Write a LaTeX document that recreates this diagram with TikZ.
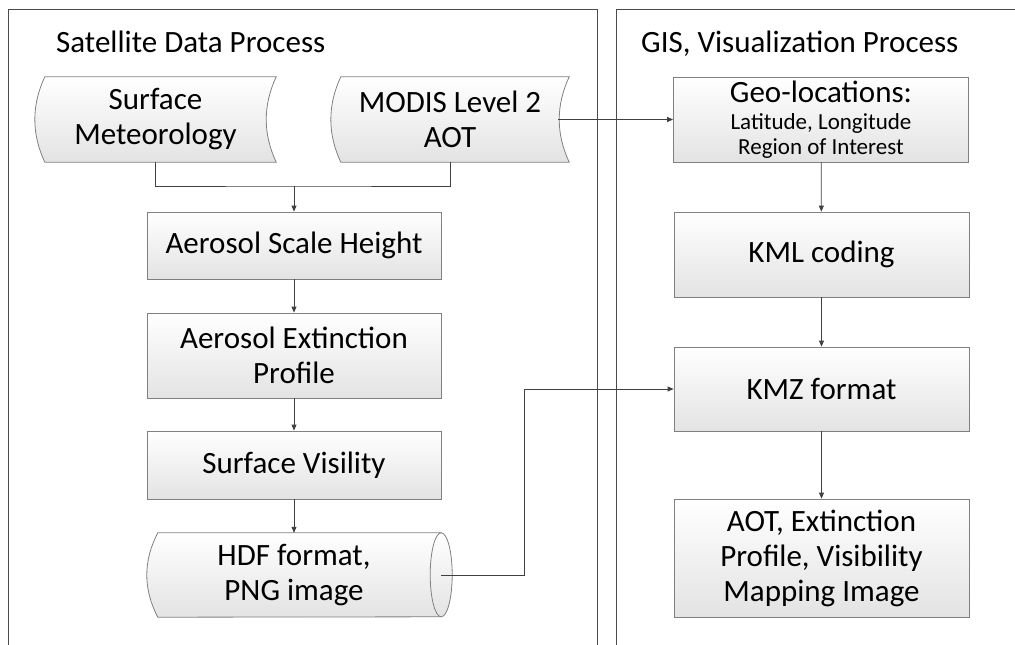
\documentclass[tikz,border=0pt]{standalone}
\usepackage{fontspec}
\setmainfont{Carlito}
\usetikzlibrary{arrows.meta,calc,backgrounds}
\tikzset{
  big/.style={font=\fontsize{31}{35}\selectfont},
  boxst/.style={draw=black!50, line width=0.8pt, top color=white, bottom color=black!11,
    minimum width=294pt, inner sep=0pt, align=center, big},
  ghost/.style={draw=none, minimum width=#1, inner sep=0pt, align=center, big},
  shapest/.style={draw=black!50, line width=0.8pt, top color=white, bottom color=black!11},
  panel/.style={draw=black!70, line width=0.8pt},
  conn/.style={draw=black!75, line width=0.8pt},
  arr/.style={conn, -{Triangle[length=6pt,width=5pt]}},
}
\newcommand\sdshape[1]{%
  \path[shapest] ([xshift=10pt]#1.north west) -- (#1.north east)
    .. controls ($(#1.north east)!1/3!(#1.south east)+(-13.3,0)$)
       and ($(#1.north east)!2/3!(#1.south east)+(-13.3,0)$) .. (#1.south east)
    -- ([xshift=10pt]#1.south west)
    .. controls ($(#1.south west)!1/3!(#1.north west)+(-3.3,0)$)
       and ($(#1.south west)!2/3!(#1.north west)+(-3.3,0)$) .. cycle;}
\begin{document}
\begin{tikzpicture}[x=1pt,y=-1pt]
\useasboundingbox (0,0) rectangle (1015,645);
\clip (0,0) rectangle (1015,645);
% panels
\draw[panel] (8,680) -- (8,9) -- (597,9) -- (597,680);
\draw[panel] (616,680) -- (616,9) -- (1040,9);
\node[anchor=base west, big, inner sep=0pt] (t1) at (56,52) {Satellite Data Process};
\node[anchor=base west, big, inner sep=0pt] (t2) at (641,52) {GIS, Visualization Process};
% left column
\node[ghost=241pt, minimum height=85pt] (sm) at (155.5,119.5) {Surface\\Meteorology};
\node[ghost=238pt, minimum height=85pt] (modis) at (450,119.5) {MODIS Level 2\\AOT};
\node[boxst, minimum height=67pt] (ash) at (294,245.5) {Aerosol Scale Height};
\node[boxst, minimum height=85pt] (aep) at (294,355.5) {Aerosol Extinction\\Profile};
\node[boxst, minimum height=68pt] (sv) at (294,465) {Surface Visility};
\node[ghost=294pt, minimum height=84pt] (hdf) at (294,575) {HDF format,\\PNG image};
% right column
\node[boxst, minimum width=295pt, minimum height=85pt,
      font=\fontsize{23}{25}\selectfont] (geo) at (821,119.5)
      {{\fontsize{31}{35}\selectfont Geo-locations:}\\[2pt]Latitude, Longitude\\Region of Interest};
\node[boxst, minimum width=295pt, minimum height=85pt] (kml) at (821.5,254.5) {KML coding};
\node[boxst, minimum width=295pt, minimum height=84pt] (kmz) at (821.5,389) {KMZ format};
\node[boxst, minimum width=295pt, minimum height=118pt] (aot) at (821.5,558) {AOT, Extinction\\Profile, Visibility\\Mapping Image};
% special shapes behind text
\begin{scope}[on background layer]
\sdshape{sm}
\sdshape{modis}
\path[shapest] ([xshift=11pt]hdf.north west) -- (hdf.north east)
  arc[start angle=90,end angle=-90,x radius=11pt,y radius=42pt]
  -- ([xshift=11pt]hdf.south west)
  .. controls ($(hdf.south west)!1/3!(hdf.north west)+(-3.7,0)$)
     and ($(hdf.south west)!2/3!(hdf.north west)+(-3.7,0)$) .. cycle;
\draw[draw=black!50, line width=0.8pt] (hdf.north east)
  arc[start angle=90,end angle=270,x radius=11pt,y radius=42pt];
\end{scope}
% connectors
\coordinate (jn) at (294,186);
\coordinate (bend) at (524,575);
\draw[conn] (sm.south) |- (jn) -| (modis.south);
\draw[arr] (jn) -- (ash.north);
\draw[arr] (ash) -- (aep);
\draw[arr] (aep) -- (sv);
\draw[arr] (sv) -- (hdf);
\draw[arr] ([xshift=-11pt]modis.east) -- (geo.west);
\draw[arr] (geo) -- (kml);
\draw[arr] (kml) -- (kmz);
\draw[arr] (kmz) -- (aot);
\draw[arr] (hdf.east) -- (bend) |- (kmz.west);
\end{tikzpicture}
\end{document}
